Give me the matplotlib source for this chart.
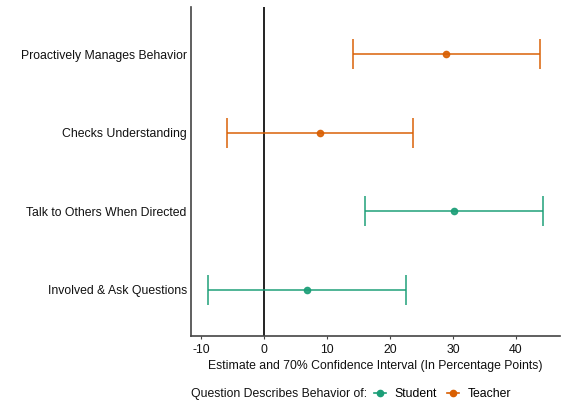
import matplotlib
matplotlib.use("Agg")
import matplotlib.pyplot as plt
from matplotlib.lines import Line2D

plt.rcParams['font.family'] = ['Liberation Sans', 'DejaVu Sans']

categories = ["Involved & Ask Questions", "Talk to Others When Directed",
              "Checks Understanding", "Proactively Manages Behavior"]
groups = ["Student", "Student", "Teacher", "Teacher"]
estimates = [6.8, 30.2, 8.9, 28.9]
lows = [-8.9, 16.0, -5.9, 14.1]
highs = [22.6, 44.3, 23.6, 43.8]
xticks = [-10, 0, 10, 20, 30, 40]
colors = {"Student": "#1B9E77", "Teacher": "#D95F02"}

FS = 8.8
fig = plt.figure(figsize=(5.67, 4.07), dpi=100)
ax = fig.add_axes([191/567, 71/407, (560-191)/567, (336-7)/407])

ax.axvline(0, color="#222222", lw=1.4, zorder=1)
for i, (c, g, e, lo, hi) in enumerate(zip(categories, groups, estimates, lows, highs)):
    y = i + 1
    col = colors[g]
    ax.errorbar(e, y, xerr=[[e - lo], [hi - e]], fmt='o', color=col, ecolor=col,
                elinewidth=1.2, capsize=11, capthick=1.2, markersize=4.5, alpha=0.9, zorder=2)

ax.set_yticks(range(1, len(categories) + 1))
ax.set_yticklabels(categories, fontsize=FS)
ax.set_xticks(xticks)
ax.set_xticklabels([str(t) for t in xticks], fontsize=FS)
ax.set_xlim(-11.6, 47.0)
ax.set_ylim(0.41, 4.6)
ax.tick_params(axis='y', length=0, pad=3, colors='#111111')
ax.tick_params(axis='x', length=2.5, width=0.8, pad=3.5, colors='#444444', labelcolor='#111111')
for s in ['top', 'right']:
    ax.spines[s].set_visible(False)
for s in ['left', 'bottom']:
    ax.spines[s].set_color('#444444')
    ax.spines[s].set_linewidth(1.2)
ax.set_xlabel("Estimate and 70% Confidence Interval (In Percentage Points)", fontsize=FS,
              labelpad=3, color='#111111')

fig.text(191/567, 1 - 394/407, "Question Describes Behavior of:", fontsize=FS,
         va='center', ha='left', color='#111111')
handles = [Line2D([0], [0], color=colors[g], marker='o', markersize=4.5, lw=1.2)
           for g in ["Student", "Teacher"]]
fig.legend(handles, ["Student", "Teacher"], ncol=2, frameon=False, fontsize=FS,
           loc='center left', bbox_to_anchor=(374/567, 1 - 394/407),
           handlelength=1.0, handletextpad=0.7, columnspacing=0.8, borderaxespad=0, borderpad=0)

fig.savefig("out.png", dpi=100)
